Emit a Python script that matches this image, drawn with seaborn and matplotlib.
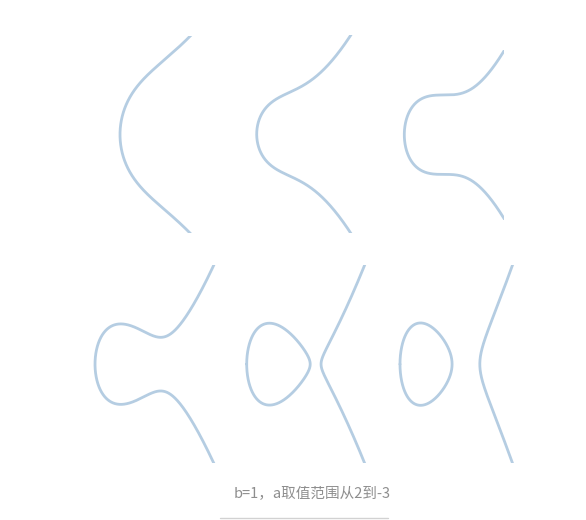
import numpy as np
import pandas as pd
import matplotlib
matplotlib.use("Agg")
import matplotlib.pyplot as plt
from matplotlib.lines import Line2D
import seaborn as sns

# ---- data ----
b_value = 1
a_values = [2, 1, 0, -1, -2, -3]
caption = "b=1，a取值范围从2到-3"

# ---- layout (pixel boxes and visible ranges of each panel) ----
W, H = 586, 520
panel_boxes = [  # left, top, right, bottom (pixels)
    (95, 36, 232, 233.3),
    (237, 35, 372, 233.3),
    (385, 49.7, 504, 219.7),
    (85, 265, 230, 463.3),
    (235, 265, 372, 463.3),
    (385, 265, 522, 463.3),
]
panel_xlims = [(-0.86, 1.368), (-1.146, 2.031), (-1.486, 1.511),
               (-1.615, 2.588), (-2.03, 2.794), (-2.52, 3.335)]
panel_ylims = [1.645, 2.478, 2.141, 2.9, 3.5, 4.17]

LINE_COLOR = "#b5cde2"


def curve_frame(a, b, xmax):
    roots = np.roots([1.0, 0.0, a, b])
    real = sorted(r.real for r in roots if abs(r.imag) < 1e-7)
    f = lambda x: x ** 3 + a * x + b
    frames = []
    if len(real) == 3:
        t = np.linspace(0, 1, 1200)
        x = real[0] + (real[1] - real[0]) * (1 - np.cos(np.pi * t)) / 2
        y = np.sqrt(np.clip(f(x), 0, None))
        xs = np.concatenate([x, x[::-1]])
        ys = np.concatenate([y, -y[::-1]])
        frames.append(pd.DataFrame({"x": xs, "y": ys, "comp": 0}))
        start = real[2]
    else:
        start = real[0]
    t = np.linspace(0, 1, 2000)
    x = start + (xmax + 0.5 - start) * t ** 2
    y = np.sqrt(np.clip(f(x), 0, None))
    xs = np.concatenate([x[::-1], x[1:]])
    ys = np.concatenate([-y[::-1], y[1:]])
    frames.append(pd.DataFrame({"x": xs, "y": ys, "comp": 1}))
    return pd.concat(frames, ignore_index=True)


sns.set_theme(style="white")
plt.rcParams["font.family"] = ["Noto Sans CJK SC", "DejaVu Sans"]

fig = plt.figure(figsize=(W / 100, H / 100), dpi=100)
fig.patch.set_facecolor("white")

for a, box, xl, yl in zip(a_values, panel_boxes, panel_xlims, panel_ylims):
    l, t, r, bt = box
    ax = fig.add_axes([l / W, 1 - bt / H, (r - l) / W, (bt - t) / H])
    df = curve_frame(a, b_value, xl[1])
    sns.lineplot(data=df, x="x", y="y", units="comp", estimator=None,
                 sort=False, color=LINE_COLOR, linewidth=2.0, ax=ax,
                 legend=False)
    ax.set_xlim(*xl)
    ax.set_ylim(-yl, yl)
    ax.axis("off")

fig.text(312.5 / W, 1 - 494 / H, caption, ha="center", va="center",
         fontsize=10.5, color="#8e8e8e")
fig.add_artist(Line2D([220 / W, 388 / W], [1 - 518 / H, 1 - 518 / H],
                      color="#d2d2d2", linewidth=1.0))

fig.savefig("out.png", dpi=100, facecolor="white")
